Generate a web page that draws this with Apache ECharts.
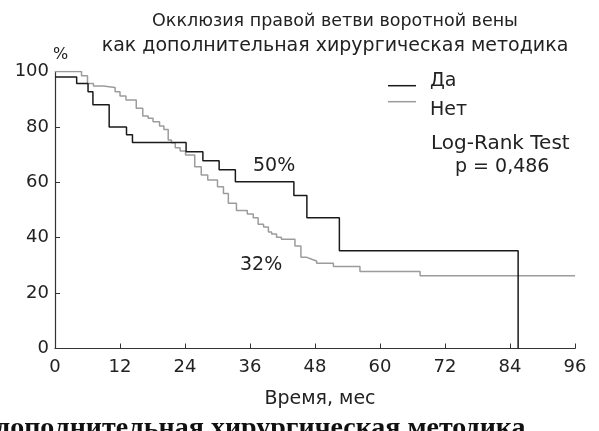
<!DOCTYPE html>
<html>
<head>
<meta charset="utf-8">
<script src="https://cdn.jsdelivr.net/npm/echarts@6/dist/echarts.min.js"></script>
<style>html,body{margin:0;padding:0;background:#fff;}#c{width:599px;height:431px;}</style>
</head>
<body>
<div id="c"></div>
<script>
// Kaplan–Meier step points [month, % surviving]
const seriesNames = ['Да', 'Нет'];
const yesCurve = [[0,98],[4,95.7],[6.1,92.7],[7,88],[10,80],[13.2,77.2],[14.3,74.4],[24.2,71],[27.3,67.8],[30.3,64.5],[33.3,60.2],[44.1,55.2],[46.5,47.2],[52.5,35.3],[85.5,35.3],[85.5,0]];
const noCurve = [[0,100],[4.9,98.5],[6.0,95.7],[7.1,94.8],[8.9,94.2],[11.1,92.7],[12,91.2],[13.1,89.7],[15,86.7],[16.2,83.9],[17.2,83.1],[18.1,81.9],[19.3,80.3],[20.1,79.1],[20.9,75.3],[21.5,74.3],[22.2,72.5],[23.1,71.3],[24.1,69.9],[25.8,65.6],[27.0,62.6],[28.2,60.8],[30.0,58.4],[31.1,56],[32.0,52.4],[33.5,49.8],[35.5,48.6],[36.6,47.2],[37.5,44.9],[38.5,43.9],[39.4,42.1],[40.0,41.3],[40.9,40.2],[41.8,39.4],[44.3,37.0],[45.4,32.9],[46.5,32.2],[47.4,31.6],[48.3,30.8],[51.4,29.6],[56.3,27.8],[67.4,26.3],[96,26.3]];
const xTicks = {min: 0, max: 96, interval: 12};
const yTicks = {min: 0, max: 100, interval: 20};
const titleLines = ['Окклюзия правой ветви воротной вены', 'как дополнительная хирургическая методика'];
const annotations = {yes: '50%', no: '32%', test: 'Log-Rank Test', p: 'p = 0,486'};
const caption = 'дополнительная хирургическая методика';

const F = 'DejaVu Sans';
const TXT = '#222';
const chart = echarts.init(document.getElementById('c'), null, {renderer: 'canvas'});
chart.setOption({
  animation: false,
  backgroundColor: '#fff',
  title: {
    text: '{a|' + titleLines[0] + '}\n{b|' + titleLines[1] + '}',
    left: 330, top: 4, textAlign: 'center',
    textStyle: {
      fontFamily: F, fontWeight: 'normal', color: TXT,
      rich: {
        a: {fontFamily: F, fontSize: 17.5, color: TXT, lineHeight: 25},
        b: {fontFamily: F, fontSize: 19, color: TXT, lineHeight: 25}
      }
    }
  },
  grid: {left: 55, right: 24, top: 71.5, bottom: 82.5, containLabel: false},
  xAxis: {
    type: 'value', min: xTicks.min, max: xTicks.max, interval: xTicks.interval,
    name: 'Время, мес', nameLocation: 'middle', nameGap: 41,
    nameTextStyle: {fontFamily: F, fontSize: 19, color: TXT, padding: [0, 0, 0, 10]},
    axisLine: {lineStyle: {color: '#333', width: 1.2}},
    axisTick: {inside: true, length: 5, lineStyle: {color: '#333'}},
    axisLabel: {fontFamily: F, fontSize: 18, color: TXT, margin: 10},
    splitLine: {show: false}
  },
  yAxis: {
    type: 'value', min: yTicks.min, max: yTicks.max, interval: yTicks.interval,
    name: '%', nameLocation: 'end', nameGap: 9,
    nameTextStyle: {fontFamily: F, fontSize: 16, color: TXT, align: 'left', padding: [0, 0, 0, -2]},
    axisLine: {show: true, lineStyle: {color: '#333', width: 1.2}},
    axisTick: {show: true, inside: true, length: 5, lineStyle: {color: '#333'}},
    axisLabel: {fontFamily: F, fontSize: 18, color: TXT, margin: 6},
    splitLine: {show: false}
  },
  series: [
    {name: seriesNames[1], type: 'line', step: 'end', data: noCurve, showSymbol: false,
     lineStyle: {color: '#9c9c9c', width: 1.5}, z: 2},
    {name: seriesNames[0], type: 'line', step: 'end', data: yesCurve, showSymbol: false,
     lineStyle: {color: '#1a1a1a', width: 1.5}, z: 3}
  ],
  graphic: [
    {type: 'line', shape: {x1: 388, y1: 85.7, x2: 416, y2: 85.7}, style: {stroke: '#1a1a1a', lineWidth: 1.5}},
    {type: 'line', shape: {x1: 388, y1: 101.7, x2: 416, y2: 101.7}, style: {stroke: '#9c9c9c', lineWidth: 1.5}},
    {type: 'text', left: 430, top: 72, style: {text: seriesNames[0], font: '19px "DejaVu Sans"', fill: TXT}},
    {type: 'text', left: 430, top: 101, style: {text: seriesNames[1], font: '19px "DejaVu Sans"', fill: TXT}},
    {type: 'text', left: 431, top: 134, style: {text: annotations.test, font: '20px "DejaVu Sans"', fill: TXT}},
    {type: 'text', left: 455, top: 158, style: {text: annotations.p, font: '19px "DejaVu Sans"', fill: TXT}},
    {type: 'text', left: 253, top: 157, style: {text: annotations.yes, font: '19px "DejaVu Sans"', fill: TXT}},
    {type: 'text', left: 240, top: 256, style: {text: annotations.no, font: '19px "DejaVu Sans"', fill: TXT}},
    {type: 'text', left: -4, top: 415, style: {text: caption, font: 'bold 28px "Liberation Serif"', fill: '#111'}}
  ]
});
</script>
</body>
</html>
